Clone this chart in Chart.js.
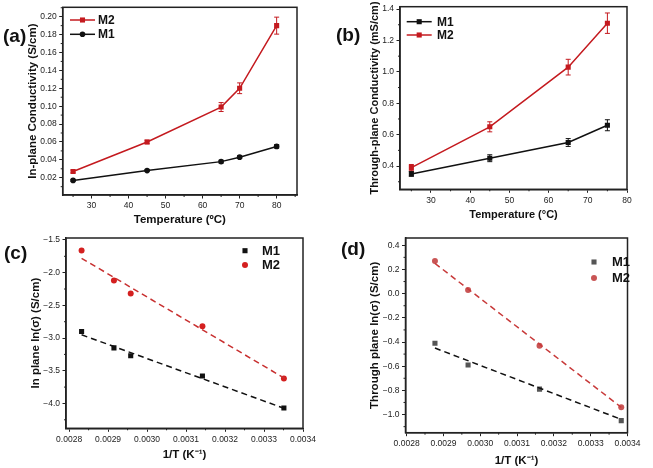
<!DOCTYPE html>
<html>
<head>
<meta charset="utf-8">
<script src="https://cdn.jsdelivr.net/npm/chart.js@4.4.0/dist/chart.umd.min.js"></script>
<style>
body { margin: 0; background: #fff; width: 653px; height: 468px; position: relative; overflow: hidden; }
canvas { position: absolute; }
.tag { position: absolute; font: bold 19px 'Liberation Sans', Arial, sans-serif; line-height: 19px; color: #111; }
</style>
</head>
<body>
<canvas id="chartA" width="325" height="234" style="left:0;top:0"></canvas>
<canvas id="chartB" width="328" height="234" style="left:325px;top:0"></canvas>
<canvas id="chartC" width="325" height="234" style="left:0;top:234px"></canvas>
<canvas id="chartD" width="328" height="234" style="left:325px;top:234px"></canvas>
<div class="tag" style="left:3px;top:26px">(a)</div>
<div class="tag" style="left:336px;top:25px">(b)</div>
<div class="tag" style="left:4px;top:243px">(c)</div>
<div class="tag" style="left:341px;top:239px">(d)</div>
<script>
// (a) in-plane conductivity vs temperature
var tempA = [25, 45, 65, 70, 80];
var inM2 = [0.027, 0.060, 0.099, 0.120, 0.190];
var inM2Err = [0.0015, 0.002, 0.005, 0.006, 0.0095];
var inM1 = [0.017, 0.028, 0.038, 0.043, 0.055];
var inM1Err = [0.001, 0.001, 0.0015, 0.0015, 0.002];
var ticksXA = [30, 40, 50, 60, 70, 80];
var ticksYA = [0.02, 0.04, 0.06, 0.08, 0.10, 0.12, 0.14, 0.16, 0.18, 0.20];

// (b) through-plane conductivity vs temperature
var tempB = [25, 45, 65, 75];
var thM1 = [0.35, 0.45, 0.55, 0.66];
var thM1Err = [0.015, 0.022, 0.025, 0.035];
var thM2 = [0.39, 0.65, 1.03, 1.31];
var thM2Err = [0.02, 0.032, 0.05, 0.065];
var ticksXB = [30, 40, 50, 60, 70, 80];
var ticksYB = [0.4, 0.6, 0.8, 1.0, 1.2, 1.4];

// (c) in-plane Arrhenius
var invTC = [0.002832, 0.002915, 0.002958, 0.003142, 0.003351];
var lnInM1 = [-2.90, -3.15, -3.27, -3.58, -4.07];
var lnInM2 = [-1.66, -2.12, -2.32, -2.82, -3.62];
var fitXC = [0.002832, 0.003354];
var fitInM1 = [-2.95, -4.08];
var fitInM2 = [-1.78, -3.62];
var ticksXC = [0.0028, 0.0029, 0.0030, 0.0031, 0.0032, 0.0033, 0.0034];
var ticksYC = [-4.0, -3.5, -3.0, -2.5, -2.0, -1.5];

// (d) through-plane Arrhenius
var invTD = [0.002877, 0.002967, 0.003161, 0.003383];
var lnThM1 = [-0.41, -0.59, -0.79, -1.05];
var lnThM2 = [0.27, 0.03, -0.43, -0.94];
var fitXD = [0.002877, 0.003383];
var fitThM1 = [-0.45, -1.04];
var fitThM2 = [0.25, -0.94];
var ticksXD = [0.0028, 0.0029, 0.0030, 0.0031, 0.0032, 0.0033, 0.0034];
var ticksYD = [-1.0, -0.8, -0.6, -0.4, -0.2, 0.0, 0.2, 0.4];

Chart.defaults.font.family = "'Liberation Sans', Arial, sans-serif";
Chart.defaults.color = '#222';

function pts(xs, ys) {
	return xs.map(function(x, i) { return { x: x, y: ys[i] }; });
}

// frame, minor ticks, error bars and the little legend
var boxPlugin = {
	id: 'box',
	beforeDatasetsDraw: function(chart) {
		var ctx = chart.ctx, sx = chart.scales.x, sy = chart.scales.y;
		chart.data.datasets.forEach(function(ds) {
			if (!ds.errors) return;
			ctx.save();
			ctx.strokeStyle = ds.borderColor;
			ctx.lineWidth = 1;
			ds.data.forEach(function(p, i) {
				var px = sx.getPixelForValue(p.x);
				var y0 = sy.getPixelForValue(p.y - ds.errors[i]);
				var y1 = sy.getPixelForValue(p.y + ds.errors[i]);
				ctx.beginPath();
				ctx.moveTo(px, y0); ctx.lineTo(px, y1);
				ctx.moveTo(px - 2.5, y0); ctx.lineTo(px + 2.5, y0);
				ctx.moveTo(px - 2.5, y1); ctx.lineTo(px + 2.5, y1);
				ctx.stroke();
			});
			ctx.restore();
		});
	},
	afterDraw: function(chart, args, opts) {
		var ctx = chart.ctx, a = chart.chartArea;
		ctx.save();
		ctx.strokeStyle = '#222';
		ctx.lineWidth = 1.5;
		ctx.strokeRect(a.left, a.top, a.right - a.left, a.bottom - a.top);

		// minor ticks halfway between the major ones
		ctx.lineWidth = 1;
		['x', 'y'].forEach(function(k) {
			var s = chart.scales[k];
			var t = s.ticks.map(function(o) { return o.value; });
			var step = t[1] - t[0];
			ctx.beginPath();
			for (var v = t[0] - step / 2; v <= s.max + 1e-12; v += step) {
				if (v < s.min) continue;
				var p = s.getPixelForValue(v);
				if (k == 'x') { ctx.moveTo(p, a.bottom); ctx.lineTo(p, a.bottom + 2); }
				else { ctx.moveTo(a.left, p); ctx.lineTo(a.left - 2, p); }
			}
			ctx.stroke();
		});

		// legend
		var lg = opts.legend;
		lg.order.forEach(function(name, i) {
			var ds = chart.data.datasets.filter(function(d) { return d.label == name; })[0];
			var y = lg.y + i * lg.dy;
			var mx = lg.line ? (lg.x0 + lg.x1) / 2 : lg.x0;
			if (lg.line) {
				ctx.strokeStyle = ds.borderColor;
				ctx.lineWidth = 1.5;
				ctx.beginPath(); ctx.moveTo(lg.x0, y); ctx.lineTo(lg.x1, y); ctx.stroke();
			}
			ctx.fillStyle = ds.pointBackgroundColor;
			ctx.strokeStyle = ds.pointBackgroundColor;
			Chart.helpers.drawPoint(ctx, { pointStyle: ds.pointStyle, radius: ds.pointRadius, rotation: 0, borderWidth: 0 }, mx, y);
			ctx.fillStyle = '#111';
			ctx.font = 'bold ' + lg.size + "px 'Liberation Sans', Arial, sans-serif";
			ctx.textBaseline = 'middle';
			ctx.textAlign = 'left';
			ctx.fillText(name, lg.tx, y + 0.5);
		});
		ctx.restore();
	}
};

function axis(range, ticks, digits, title, size, fit) {
	return {
		type: 'linear',
		min: range[0],
		max: range[1],
		afterBuildTicks: function(s) {
			s.ticks = ticks.map(function(v) { return { value: v }; });
		},
		afterFit: function(s) {
			fit(s);
			s.paddingLeft = 0; s.paddingRight = 0; s.paddingTop = 0; s.paddingBottom = 0;
		},
		grid: { drawOnChartArea: false, drawTicks: true, tickLength: 3.5, tickColor: '#222', tickWidth: 1 },
		border: { color: '#222', width: 1.5 },
		ticks: {
			font: { size: 8.5 },
			color: '#222',
			padding: 2.5,
			maxRotation: 0,
			autoSkip: false,
			callback: function(v) { return v.toFixed(digits).replace('-', '\u2212'); }
		},
		title: { display: true, text: title, font: { size: size, weight: 'bold' }, color: '#111', padding: 0 }
	};
}

function makePanel(id, p) {
	var cv = document.getElementById(id);
	var lh = p.titleSize * 1.2;
	var L = p.box[0] - p.left, T = p.box[1] - p.top, R = p.box[2] - p.left, B = p.box[3] - p.top;
	var padL = p.yTitleX - p.left - lh / 2;
	var padB = Math.max(0, cv.height - (p.xTitleY - p.top) - lh / 2);
	var yW = L - padL, xH = cv.height - padB - B;
	return new Chart(cv, {
		type: 'scatter',
		data: { datasets: p.datasets },
		options: {
			responsive: false,
			animation: false,
			devicePixelRatio: 1,
			layout: { padding: { left: padL, right: cv.width - R, top: T, bottom: padB } },
			plugins: { legend: { display: false }, tooltip: { enabled: false }, box: { legend: p.legend } },
			scales: {
				x: axis(p.xRange, p.xTicks, p.xDigits, p.xTitle, p.titleSize, function(s) { s.height = xH; }),
				y: axis(p.yRange, p.yTicks, p.yDigits, p.yTitle, p.titleSize, function(s) { s.width = yW; })
			}
		},
		plugins: [boxPlugin]
	});
}

function series(label, data, color, style, radius, errors) {
	return {
		label: label, data: data, errors: errors,
		showLine: true, borderColor: color, borderWidth: 1.5,
		pointStyle: style, pointRadius: radius, pointBackgroundColor: color, pointBorderColor: color, pointBorderWidth: 0
	};
}
function markers(label, data, color, style, radius) {
	return {
		label: label, data: data, showLine: false, borderColor: color,
		pointStyle: style, pointRadius: radius, pointBackgroundColor: color, pointBorderColor: color, pointBorderWidth: 0
	};
}
function fitLine(label, data, color) {
	return {
		label: label, data: data, showLine: true, borderColor: color, borderWidth: 1.5,
		borderDash: [6, 4], pointRadius: 0
	};
}

var RED = '#c41a1f', BLACK = '#111';

makePanel('chartA', {
	left: 0, top: 0, box: [62.7, 7.3, 297, 195], yTitleX: 33, xTitleY: 220, titleSize: 11.5,
	xRange: [22.2, 85.5], yRange: [0.0007, 0.2105], xTicks: ticksXA, yTicks: ticksYA, xDigits: 0, yDigits: 2,
	xTitle: 'Temperature (\u00BAC)', yTitle: 'In-plane Conductivity (S/cm)',
	datasets: [
		series('M1', pts(tempA, inM1), BLACK, 'circle', 2.8, inM1Err),
		series('M2', pts(tempA, inM2), RED, 'rect', 3.6, inM2Err)
	],
	legend: { order: ['M2', 'M1'], line: true, x0: 70, x1: 95, y: 20, dy: 14.3, tx: 98, size: 12 }
});

makePanel('chartB', {
	left: 325, top: 0, box: [400, 6.7, 627, 189.3], yTitleX: 375, xTitleY: 215, titleSize: 11,
	xRange: [22.1, 80], yRange: [0.252, 1.415], xTicks: ticksXB, yTicks: ticksYB, xDigits: 0, yDigits: 1,
	xTitle: 'Temperature (\u00B0C)', yTitle: 'Through-plane Conductivity (mS/cm)',
	datasets: [
		series('M1', pts(tempB, thM1), BLACK, 'rect', 3.6, thM1Err),
		series('M2', pts(tempB, thM2), RED, 'rect', 3.6, thM2Err)
	],
	legend: { order: ['M1', 'M2'], line: true, x0: 81.7, x1: 106.7, y: 21.7, dy: 13.3, tx: 112, size: 12 }
});

makePanel('chartC', {
	left: 0, top: 234, box: [66, 238, 303, 428.3], yTitleX: 35.5, xTitleY: 455, titleSize: 11.5,
	xRange: [0.002792, 0.0034], yRange: [-4.38, -1.47], xTicks: ticksXC, yTicks: ticksYC, xDigits: 4, yDigits: 1,
	xTitle: '1/T (K\u207B\u00B9)', yTitle: 'In plane ln(\u03C3) (S/cm)',
	datasets: [
		fitLine('fit M1', pts(fitXC, fitInM1), BLACK),
		fitLine('fit M2', pts(fitXC, fitInM2), '#c83030'),
		markers('M1', pts(invTC, lnInM1), BLACK, 'rect', 3.6),
		markers('M2', pts(invTC, lnInM2), '#d42020', 'circle', 3)
	],
	legend: { order: ['M1', 'M2'], line: false, x0: 245, y: 16.7, dy: 14.3, tx: 262, size: 13 }
});

makePanel('chartD', {
	left: 325, top: 234, box: [405.5, 237, 627.5, 432.7], yTitleX: 375, xTitleY: 460.5, titleSize: 11.5,
	xRange: [0.002797, 0.0034], yRange: [-1.15, 0.46], xTicks: ticksXD, yTicks: ticksYD, xDigits: 4, yDigits: 1,
	xTitle: '1/T (K\u207B\u00B9)', yTitle: 'Through plane ln(\u03C3) (S/cm)',
	datasets: [
		fitLine('fit M1', pts(fitXD, fitThM1), BLACK),
		fitLine('fit M2', pts(fitXD, fitThM2), '#c83a3a'),
		markers('M1', pts(invTD, lnThM1), '#555', 'rect', 3.6),
		markers('M2', pts(invTD, lnThM2), '#c95555', 'circle', 3)
	],
	legend: { order: ['M1', 'M2'], line: false, x0: 269, y: 28, dy: 16, tx: 287, size: 13 }
});
</script>
</body>
</html>
